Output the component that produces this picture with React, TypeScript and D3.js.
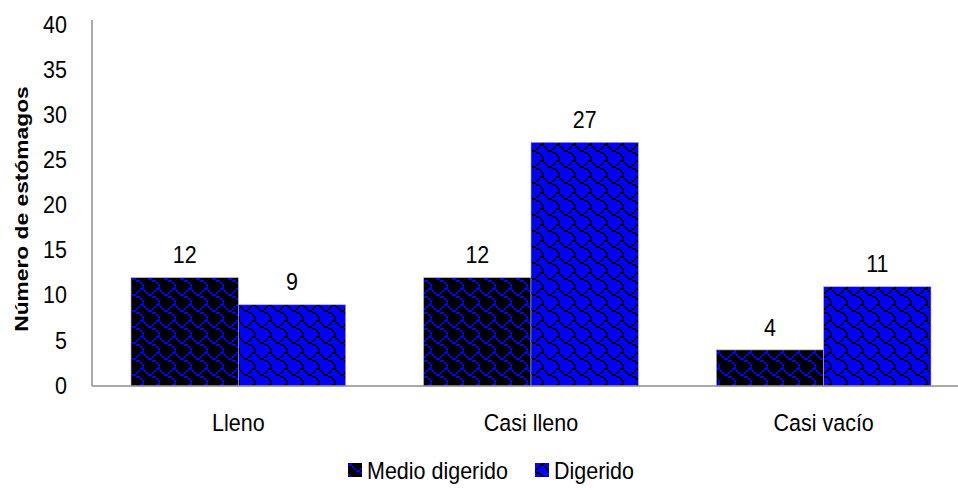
import React from "react";
import * as d3 from "d3";

const categories = ["Lleno", "Casi lleno", "Casi vacío"];
const seriesNames = ["Medio digerido", "Digerido"];
const medioDigerido = [12, 12, 4];
const digerido = [9, 27, 11];
const yTicks = [0, 5, 10, 15, 20, 25, 30, 35, 40];

// Shingle hatch, 8x8 bit rows (MSB = leftmost pixel)
const SHINGLE = [0x03, 0x84, 0x48, 0x30, 0x0c, 0x02, 0x01, 0x01];

const W = 958;
const H = 490;
const plotLeft = 92;
const plotRight = 970;
const plotTop = 25;
const plotBottom = 386;
const FONT = "'Liberation Sans', Arial, sans-serif";
const FS = 21.5;
const STRETCH = 1.12;

const seriesStyle = [
  { bg: "#000000", fg: "#0000ff", id: "pat-medio" },
  { bg: "#0000ff", fg: "#000000", id: "pat-dig" },
];

function HatchPattern({ id, bg, fg }: { id: string; bg: string; fg: string }) {
  const px = 2;
  const cells: React.ReactNode[] = [];
  SHINGLE.forEach((row, r) => {
    for (let c = 0; c < 8; c++) {
      if (row & (0x80 >> c)) {
        cells.push(<rect key={`${r}-${c}`} x={c * px} y={r * px} width={px} height={px} fill={fg} />);
      }
    }
  });
  return (
    <pattern id={id} patternUnits="userSpaceOnUse" width={8 * px} height={8 * px}>
      <rect width={8 * px} height={8 * px} fill={bg} />
      {cells}
    </pattern>
  );
}

// Horizontal label with a slight vertical stretch
function Label({
  x,
  y,
  anchor = "middle",
  children,
}: {
  x: number;
  y: number;
  anchor?: "start" | "middle" | "end";
  children: React.ReactNode;
}) {
  return (
    <g transform={`translate(${x},${y}) scale(1,${STRETCH})`}>
      <text x={0} y={0} dy="0.36em" textAnchor={anchor} fontSize={FS} fill="#000">
        {children}
      </text>
    </g>
  );
}

export default function App() {
  const x0 = d3
    .scaleBand<string>()
    .domain(categories)
    .range([plotLeft, plotRight])
    .paddingInner(0)
    .paddingOuter(0);
  const groupPad = 39;
  const x1 = d3
    .scaleBand<string>()
    .domain(seriesNames)
    .range([groupPad, x0.bandwidth() - groupPad]);
  const y = d3.scaleLinear().domain([0, 40]).range([plotBottom, plotTop]);

  const data = [medioDigerido, digerido];
  const axisColor = "#8c8c8c";

  return (
    <svg
      width={W}
      height={H}
      style={{ position: "absolute", left: 0, top: 0, background: "#fff" }}
      fontFamily={FONT}
    >
      <defs>
        {seriesStyle.map((s) => (
          <HatchPattern key={s.id} id={s.id} bg={s.bg} fg={s.fg} />
        ))}
      </defs>

      {/* bars with value labels */}
      {seriesNames.map((name, si) =>
        categories.map((cat, ci) => {
          const v = data[si][ci];
          const bx = (x0(cat) ?? 0) + (x1(name) ?? 0);
          return (
            <g key={`${name}-${cat}`}>
              <rect
                x={bx}
                y={y(v)}
                width={x1.bandwidth()}
                height={y(0) - y(v)}
                fill={`url(#${seriesStyle[si].id})`}
                stroke="#b0b0b0"
                strokeWidth={0.6}
              />
              <Label x={bx + x1.bandwidth() / 2} y={y(v) - 23}>
                {v}
              </Label>
            </g>
          );
        })
      )}

      {/* axes */}
      <line x1={plotLeft} x2={plotLeft} y1={20} y2={y(0)} stroke={axisColor} strokeWidth={1.5} />
      <line x1={plotLeft} x2={W} y1={y(0)} y2={y(0)} stroke={axisColor} strokeWidth={1.5} />

      {yTicks.map((t) => (
        <Label key={t} x={67} y={y(t) - 1} anchor="end">
          {t}
        </Label>
      ))}

      {categories.map((c) => (
        <Label key={c} x={(x0(c) ?? 0) + x0.bandwidth() / 2} y={422}>
          {c}
        </Label>
      ))}

      <g transform={`translate(28, 209) scale(1,1.2) rotate(-90)`}>
        <text textAnchor="middle" fontSize={19} fontWeight="bold" fill="#000">
          Número de estómagos
        </text>
      </g>

      {/* legend */}
      {[
        { x: 348, label: seriesNames[0], s: seriesStyle[0] },
        { x: 535, label: seriesNames[1], s: seriesStyle[1] },
      ].map((l) => (
        <g key={l.label}>
          <rect x={l.x} y={463} width={14} height={14} fill={`url(#${l.s.id})`} />
          <Label x={l.x + 19} y={470} anchor="start">
            {l.label}
          </Label>
        </g>
      ))}
    </svg>
  );
}
